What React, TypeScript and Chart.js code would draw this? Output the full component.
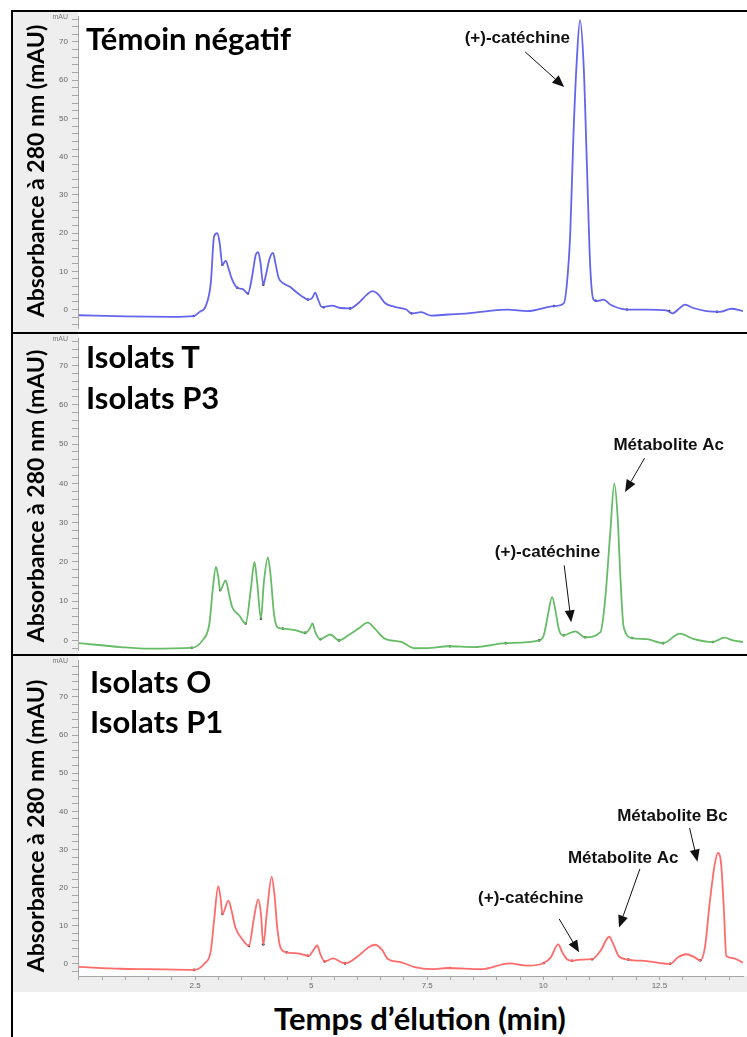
import React, { useEffect, useRef } from "react";
import { Chart, registerables } from "chart.js";

Chart.register(...registerables);

// ---- axis settings ----
const X_MIN = -0.02;
const X_MAX = 14.3;
const X_LABELS = [2.5, 5, 7.5, 10, 12.5];
const Y_LABELS = [0, 10, 20, 30, 40, 50, 60, 70];

// ---- series: [time (min), absorbance (mAU)] ----
const TEMOIN: number[][] = [
  [0, -1.5], [1.0, -1.8], [2.0, -1.9], [2.47, -1.7], [2.6, -0.6], [2.73, 0.9], [2.84, 7], [2.91, 19.1],
  [2.98, 20], [3.03, 17.5], [3.09, 11.7], [3.16, 12.8], [3.23, 10.4], [3.3, 7.8], [3.41, 5.7], [3.52, 5.4],
  [3.64, 4.2], [3.73, 8.7], [3.81, 14.4], [3.86, 15], [3.91, 12.2], [3.97, 6.5], [4.02, 8.7], [4.11, 13.5],
  [4.18, 14.8], [4.23, 12.2], [4.3, 8.3], [4.41, 6.8], [4.55, 5.9], [4.66, 4.8], [4.8, 3.5], [4.93, 2.6],
  [5.02, 3], [5.09, 4.4], [5.15, 2.6], [5.23, 0.7], [5.45, 1], [5.63, 0.4], [5.84, 0.3], [6.02, 1.7],
  [6.2, 3.9], [6.32, 4.8], [6.45, 3.9], [6.59, 1.7], [6.8, 0.7], [7.05, 0], [7.16, -1], [7.37, -0.7],
  [7.59, -1.6], [7.94, -1.3], [8.37, -1], [8.8, -0.4], [9.23, 0], [9.66, -0.4], [10.23, 0.9], [10.44, 1.6],
  [10.51, 7], [10.58, 20], [10.65, 46], [10.72, 65], [10.79, 75.7], [10.87, 63.5], [10.94, 37.4], [11.01, 11.3],
  [11.08, 2.6], [11.15, 2.2], [11.3, 2.6], [11.44, 1.3], [11.8, 0], [12.23, 0], [12.65, -0.2], [12.78, -1],
  [12.94, 0.4], [13.05, 1.3], [13.23, 0.4], [13.51, -0.4], [13.8, -0.6], [14.05, 0.2], [14.3, -0.4],
];
const TEMOIN_MARKS: number[][] = [
  [2.47, -1.7], [3.09, 11.7], [3.41, 5.7], [3.64, 4.2], [3.97, 6.5], [4.93, 2.6], [5.27, 0.6], [5.84, 0.3],
  [7.16, -1], [10.23, 0.9], [11.13, 2.3], [11.8, 0], [12.71, -0.4], [13.74, -0.6],
];

const ISOLATS_T_P3: number[][] = [
  [0, -0.7], [0.9, -1.7], [1.5, -2.1], [2.43, -1.9], [2.66, 0], [2.81, 4.3], [2.88, 12.8], [2.95, 18.7],
  [3.0, 16.2], [3.04, 12.8], [3.16, 15.3], [3.23, 11.9], [3.3, 8.5], [3.45, 6.4], [3.59, 4.3], [3.7, 12.8],
  [3.78, 20], [3.84, 14.5], [3.92, 5.5], [3.98, 14.5], [4.07, 21.1], [4.13, 16.2], [4.2, 6.8], [4.27, 3.4],
  [4.39, 3], [4.66, 2.6], [4.87, 1.9], [4.97, 3], [5.03, 4.3], [5.09, 2.1], [5.2, 0.3], [5.3, 0.9],
  [5.41, 1.5], [5.6, 0], [5.8, 1.3], [6.02, 3], [6.22, 4.5], [6.37, 3], [6.59, 0.4], [6.94, -0.4],
  [7.23, -2], [7.59, -1.9], [7.94, -1.5], [8.51, -1.7], [9.19, -0.7], [9.91, 0], [10.01, 1.3], [10.09, 5.9],
  [10.19, 11], [10.26, 7.7], [10.34, 2.6], [10.44, 1.3], [10.69, 2.3], [10.9, 0.8], [11.23, 2.1], [11.33, 10.2],
  [11.44, 27.2], [11.53, 40], [11.6, 31.5], [11.66, 16.1], [11.73, 3.4], [11.91, 0.6], [12.23, 0.3], [12.58, -0.7],
  [12.94, 1.7], [13.23, 0.4], [13.65, -0.4], [13.9, 0.7], [14.08, 0], [14.3, -0.4],
];
const ISOLATS_T_P3_MARKS: number[][] = [
  [2.43, -1.9], [3.04, 12.8], [3.59, 4.3], [3.92, 5.5], [4.39, 3], [4.87, 1.9], [5.2, 0.3], [5.6, 0],
  [7.99, -1.5], [9.19, -0.7], [9.91, 0], [10.44, 1.3], [10.9, 0.8], [11.91, 0.6], [12.58, -0.7], [13.65, -0.4],
];

const ISOLATS_O_P1: number[][] = [
  [0, -0.8], [0.9, -1.3], [1.52, -1.4], [2.48, -1.6], [2.7, 0], [2.84, 3.4], [2.91, 11.3], [3.0, 20.4],
  [3.05, 17.3], [3.09, 13.1], [3.22, 16.6], [3.29, 13.8], [3.37, 9.5], [3.52, 6.4], [3.66, 4.7], [3.77, 12.1],
  [3.86, 16.9], [3.92, 13], [3.97, 5.1], [4.05, 13.8], [4.15, 22.8], [4.21, 18.2], [4.27, 9.5], [4.34, 4.3],
  [4.47, 3], [4.73, 2.7], [4.95, 2.1], [5.04, 3.4], [5.13, 4.8], [5.2, 2.5], [5.29, 0.6], [5.47, 1.4],
  [5.73, 0.1], [6.02, 2.1], [6.23, 4.3], [6.37, 5], [6.52, 3.8], [6.66, 1.2], [6.94, 0.4], [7.23, -0.9],
  [7.59, -1.4], [7.94, -1.1], [8.66, -1.4], [9.27, 0.1], [9.66, -0.5], [10.01, 0.2], [10.16, 1.7], [10.32, 5.1],
  [10.41, 3], [10.51, 1.2], [10.62, 0.8], [10.8, 1.1], [11.05, 1.2], [11.23, 3.4], [11.42, 7.1], [11.51, 5.1],
  [11.62, 2.1], [11.83, 1.1], [12.23, 0.7], [12.73, 0], [12.9, 1.7], [13.08, 2.5], [13.26, 1.7], [13.38, 0.9],
  [13.48, 4.3], [13.58, 15.6], [13.69, 26], [13.76, 29.1], [13.83, 26], [13.89, 13.8], [13.94, 2.1], [14.08, 1.5],
  [14.3, 0.3],
];
const ISOLATS_O_P1_MARKS: number[][] = [
  [2.48, -1.6], [3.09, 13.1], [3.66, 4.7], [3.97, 5.1], [4.47, 3], [4.93, 2.1], [5.29, 0.6], [5.73, 0.1],
  [7.99, -1.1], [10.01, 0.2], [10.62, 0.8], [11.05, 1.2], [11.83, 1.1], [12.73, 0], [13.38, 0.9],
];

// ---- annotations: label anchor and arrow (from -> to) in data units ----
type Annot = { text: string; tx: number; ty: number; from: number[]; to: number[] };
const ANNOT_TEMOIN: Annot[] = [
  { text: "(+)-catéchine", tx: 9.44, ty: 71.0, from: [9.61, 67.4], to: [10.45, 58.2] },
];
const ANNOT_T_P3: Annot[] = [
  { text: "Métabolite Ac", tx: 12.7, ty: 49.7, from: [12.18, 46.4], to: [11.76, 37.8] },
  { text: "(+)-catéchine", tx: 10.09, ty: 22.4, from: [10.45, 19.1], to: [10.6, 4.6] },
];
const ANNOT_O_P1: Annot[] = [
  { text: "Métabolite Bc", tx: 12.78, ty: 38.7, from: [13.15, 35.6], to: [13.32, 26.8] },
  { text: "Métabolite Ac", tx: 11.72, ty: 27.8, from: [12.08, 24.9], to: [11.63, 9.5] },
  { text: "(+)-catéchine", tx: 9.73, ty: 17.1, from: [10.34, 11.8], to: [10.77, 3.0] },
];

const GRAY = "#eeeeee";
const TICK_COLOR = "#a6a6a6";
const BIG_FONT = "Lato, 'Open Sans', sans-serif";

type PanelProps = {
  top: number;
  height: number;
  series: number[][];
  marks: number[][];
  color: string;
  yMin: number;
  yMax: number;
  showX: boolean;
  annots: Annot[];
};

function Panel({ top, height, series, marks, color, yMin, yMax, showX, annots }: PanelProps) {
  const ref = useRef<HTMLCanvasElement>(null);
  useEffect(() => {
    const canvas = ref.current;
    if (!canvas) return;
    const deco = {
      id: "deco",
      beforeDraw(chart: any) {
        const { ctx, chartArea: a, width, height: h } = chart;
        ctx.save();
        ctx.fillStyle = "#ffffff";
        ctx.fillRect(0, 0, width, h);
        ctx.fillStyle = GRAY;
        ctx.fillRect(0, 0, a.left, h);
        if (showX) ctx.fillRect(0, a.bottom, width, h - a.bottom);
        ctx.fillStyle = "#777";
        ctx.font = "7px 'Liberation Sans', Arial";
        ctx.textAlign = "right";
        ctx.textBaseline = "top";
        ctx.fillText("mAU", a.left - 10, 2);
        ctx.restore();
      },
      afterDatasetsDraw(chart: any) {
        const { ctx } = chart;
        const xs = chart.scales.x;
        const ys = chart.scales.y;
        ctx.save();
        ctx.fillStyle = "#111";
        ctx.strokeStyle = "#111";
        ctx.font = "bold 17px 'Liberation Sans', Arial";
        ctx.textAlign = "center";
        ctx.textBaseline = "middle";
        for (const an of annots) {
          ctx.fillText(an.text, xs.getPixelForValue(an.tx), ys.getPixelForValue(an.ty));
          const x0 = xs.getPixelForValue(an.from[0]);
          const y0 = ys.getPixelForValue(an.from[1]);
          const x1 = xs.getPixelForValue(an.to[0]);
          const y1 = ys.getPixelForValue(an.to[1]);
          const ang = Math.atan2(y1 - y0, x1 - x0);
          const hl = 12;
          const hw = 5;
          const bx = x1 - hl * Math.cos(ang);
          const by = y1 - hl * Math.sin(ang);
          ctx.lineWidth = 1;
          ctx.beginPath();
          ctx.moveTo(x0, y0);
          ctx.lineTo(bx, by);
          ctx.stroke();
          ctx.beginPath();
          ctx.moveTo(x1, y1);
          ctx.lineTo(bx + hw * Math.sin(ang), by - hw * Math.cos(ang));
          ctx.lineTo(bx - hw * Math.sin(ang), by + hw * Math.cos(ang));
          ctx.closePath();
          ctx.fill();
        }
        ctx.restore();
      },
    };

    const chart = new Chart(canvas, {
      type: "line",
      data: {
        datasets: [
          {
            data: series.map((p) => ({ x: p[0], y: p[1] })),
            borderColor: color,
            borderWidth: 1.8,
            pointRadius: 0,
            fill: false,
            cubicInterpolationMode: "monotone",
          },
          {
            data: marks.map((p) => ({ x: p[0], y: p[1] })),
            showLine: false,
            pointRadius: 1.3,
            pointBorderWidth: 0,
            pointBackgroundColor: "#333",
          },
        ],
      },
      options: {
        animation: false,
        responsive: false,
        maintainAspectRatio: false,
        events: [],
        layout: { padding: 0 },
        plugins: { legend: { display: false }, tooltip: { enabled: false } },
        scales: {
          x: {
            type: "linear",
            min: X_MIN,
            max: X_MAX,
            display: showX,
            afterFit: (s: any) => {
              s.height = showX ? 16 : 0;
              s.paddingLeft = 0;
              s.paddingRight = 0;
            },
            border: { color: TICK_COLOR, width: 1 },
            grid: { drawOnChartArea: false, drawTicks: true, tickLength: 4, color: TICK_COLOR },
            ticks: {
              stepSize: 0.5,
              autoSkip: false,
              maxRotation: 0,
              includeBounds: false,
              padding: 1,
              color: "#666",
              font: { size: 8, family: "'Liberation Sans', Arial" },
              callback: (v: any) => {
                const n = Number(v);
                return X_LABELS.some((l) => Math.abs(l - n) < 1e-6) ? String(n) : "";
              },
            },
          },
          y: {
            type: "linear",
            min: yMin,
            max: yMax,
            afterFit: (s: any) => {
              s.width = 65;
              s.paddingTop = 0;
              s.paddingBottom = 0;
            },
            border: { color: TICK_COLOR, width: 1 },
            grid: { drawOnChartArea: false, drawTicks: true, tickLength: 6, color: TICK_COLOR },
            ticks: {
              stepSize: 2,
              autoSkip: false,
              includeBounds: false,
              padding: 4,
              color: "#666",
              font: { size: 8, family: "'Liberation Sans', Arial" },
              callback: (v: any) => {
                const n = Number(v);
                return Y_LABELS.includes(n) ? String(n) : "";
              },
            },
          },
        },
      },
      plugins: [deco],
    } as any);
    return () => chart.destroy();
  }, []);
  return (
    <canvas
      ref={ref}
      width={734}
      height={height}
      style={{ position: "absolute", left: 13, top, width: 734, height }}
    />
  );
}

function YTitle({ cy }: { cy: number }) {
  return (
    <div
      style={{
        position: "absolute",
        left: 35 - 170,
        top: cy - 15,
        width: 340,
        height: 30,
        lineHeight: "30px",
        textAlign: "center",
        transform: "rotate(-90deg)",
        fontFamily: BIG_FONT,
        fontWeight: 700,
        fontSize: 23,
        color: "#000",
        whiteSpace: "nowrap",
      }}
    >
      Absorbance à 280 nm (mAU)
    </div>
  );
}

function BigLabel({ left, top, lines, lh }: { left: number; top: number; lines: string[]; lh: number }) {
  return (
    <div
      style={{
        position: "absolute",
        left,
        top,
        fontFamily: BIG_FONT,
        fontWeight: 700,
        fontSize: 31,
        lineHeight: `${lh}px`,
        color: "#000",
        whiteSpace: "nowrap",
      }}
    >
      {lines.map((l) => (
        <div key={l}>{l}</div>
      ))}
    </div>
  );
}

export default function App() {
  return (
    <div
      style={{
        position: "absolute",
        left: 0,
        top: 0,
        width: 747,
        height: 1037,
        background: "#fff",
        overflow: "hidden",
      }}
    >
      <Panel top={12} height={320} series={TEMOIN} marks={TEMOIN_MARKS} color="#6464ee"
        yMin={-4.83} yMax={76.8} showX={false} annots={ANNOT_TEMOIN} />
      <Panel top={334} height={320} series={ISOLATS_T_P3} marks={ISOLATS_T_P3_MARKS} color="#66bb66"
        yMin={-2.45} yMax={77.0} showX={false} annots={ANNOT_T_P3} />
      <Panel top={656} height={336} series={ISOLATS_O_P1} marks={ISOLATS_O_P1_MARKS} color="#ff6b6b"
        yMin={-3.2} yMax={79.7} showX={true} annots={ANNOT_O_P1} />

      {/* frame lines */}
      <div style={{ position: "absolute", left: 11, top: 10, width: 736, height: 2, background: "#000" }} />
      <div style={{ position: "absolute", left: 11, top: 10, width: 2, height: 1027, background: "#000" }} />
      <div style={{ position: "absolute", left: 11, top: 332, width: 736, height: 2, background: "#000" }} />
      <div style={{ position: "absolute", left: 11, top: 654, width: 736, height: 2, background: "#000" }} />

      <YTitle cy={171} />
      <YTitle cy={496} />
      <YTitle cy={826} />

      <BigLabel left={86} top={20} lh={37} lines={["Témoin négatif"]} />
      <BigLabel left={86} top={336} lh={41} lines={["Isolats T", "Isolats P3"]} />
      <BigLabel left={90} top={661} lh={40} lines={["Isolats O", "Isolats P1"]} />

      <div
        style={{
          position: "absolute",
          left: 220,
          top: 1000,
          width: 400,
          textAlign: "center",
          fontFamily: BIG_FONT,
          fontWeight: 700,
          fontSize: 31,
          lineHeight: "37px",
          color: "#000",
          whiteSpace: "nowrap",
        }}
      >
        Temps d’élution (min)
      </div>
    </div>
  );
}
